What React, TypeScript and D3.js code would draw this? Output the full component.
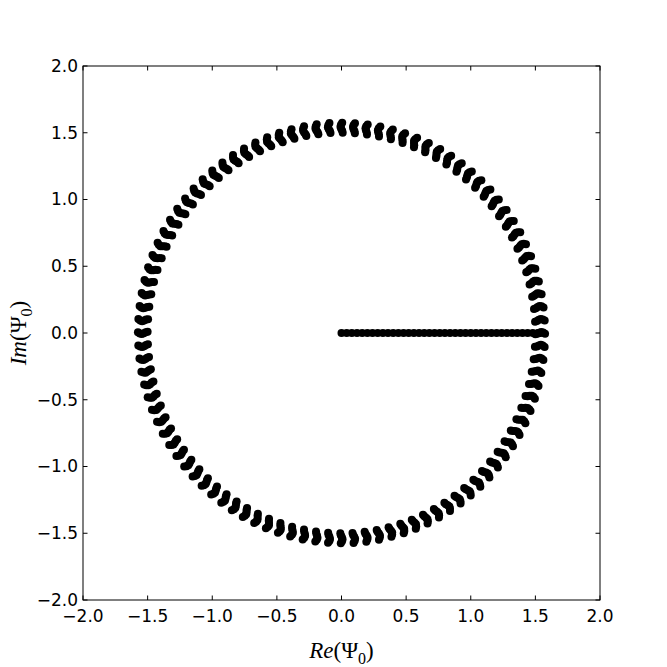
import { useEffect, useRef } from 'react';
import * as d3 from 'd3';

// angles (deg) of the point clusters around the circle
const clusterAngles = [
  0, 3.6, 7.2, 10.8, 14.4, 18, 21.6, 25.2, 28.8, 32.4, 36, 39.6, 43.2, 46.8, 50.4, 54, 57.6, 61.2, 64.8, 68.4,
  72, 75.6, 79.2, 82.8, 86.4, 90, 93.6, 97.2, 100.8, 104.4, 108, 111.6, 115.2, 118.8, 122.4, 126, 129.6, 133.2,
  136.8, 140.4, 144, 147.6, 151.2, 154.8, 158.4, 162, 165.6, 169.2, 172.8, 176.4, 180, 183.6, 187.2, 190.8, 194.4,
  198, 201.6, 205.2, 208.8, 212.4, 216, 219.6, 223.2, 226.8, 230.4, 234, 237.6, 241.2, 244.8, 248.4, 252, 255.6,
  259.2, 262.8, 266.4, 270, 273.6, 277.2, 280.8, 284.4, 288, 291.6, 295.2, 298.8, 302.4, 306, 309.6, 313.2, 316.8,
  320.4, 324, 327.6, 331.2, 334.8, 338.4, 342, 345.6, 349.2, 352.8, 356.4,
];
// each cluster: a few points at slightly different |Psi0| and phase
const clusterRadii = [1.5, 1.515, 1.53, 1.545, 1.56, 1.575];
const clusterTwist = [-0.35, -0.2, 0.1, 0.3, 0.15, -0.2];

// points on the real axis
const lineRe = [
  0, 0.04, 0.08, 0.12, 0.16, 0.2, 0.24, 0.28, 0.32, 0.36, 0.4, 0.44, 0.48, 0.52, 0.56, 0.6, 0.64, 0.68, 0.72,
  0.76, 0.8, 0.84, 0.88, 0.92, 0.96, 1.0, 1.04, 1.08, 1.12, 1.16, 1.2, 1.24, 1.28, 1.32, 1.36, 1.4, 1.44, 1.48,
  1.52, 1.54,
];

const ticks = [-2, -1.5, -1, -0.5, 0, 0.5, 1, 1.5, 2];

const App = () => {
  const svgRef = useRef<SVGSVGElement>(null);

  useEffect(() => {
    const width = 667;
    const height = 667;
    const left = 83;
    const right = 600;
    const top = 66;
    const bottom = 600;

    const svg = d3.select(svgRef.current).attr('width', width).attr('height', height);
    svg.selectAll('*').remove();

    const x = d3.scaleLinear().domain([-2, 2]).range([left, right]);
    const y = d3.scaleLinear().domain([-2, 2]).range([bottom, top]);

    const pts: [number, number][] = [];
    clusterAngles.forEach((a) => {
      clusterRadii.forEach((r, i) => {
        const t = ((a + clusterTwist[i]) * Math.PI) / 180;
        pts.push([r * Math.cos(t), r * Math.sin(t)]);
      });
    });
    lineRe.forEach((v) => pts.push([v, 0]));

    svg
      .append('g')
      .selectAll('circle')
      .data(pts)
      .enter()
      .append('circle')
      .attr('cx', (d) => x(d[0]))
      .attr('cy', (d) => y(d[1]))
      .attr('r', 4)
      .attr('fill', '#000');

    // frame
    svg
      .append('rect')
      .attr('x', left)
      .attr('y', top)
      .attr('width', right - left)
      .attr('height', bottom - top)
      .attr('fill', 'none')
      .attr('stroke', '#000')
      .attr('stroke-width', 1);

    const fmt = (v: number) => d3.format('.1f')(v).replace('-', '\u2212');
    const tk = 4.5;

    const gx = svg.append('g');
    ticks.forEach((v) => {
      gx.append('line').attr('x1', x(v)).attr('x2', x(v)).attr('y1', bottom).attr('y2', bottom - tk).attr('stroke', '#000');
      gx.append('line').attr('x1', x(v)).attr('x2', x(v)).attr('y1', top).attr('y2', top + tk).attr('stroke', '#000');
      gx.append('text')
        .attr('x', x(v))
        .attr('y', bottom + 22)
        .attr('text-anchor', 'middle')
        .style('font-family', 'DejaVu Sans, sans-serif')
        .style('font-size', '17px')
        .text(fmt(v));
    });

    const gy = svg.append('g');
    ticks.forEach((v) => {
      gy.append('line').attr('x1', left).attr('x2', left + tk).attr('y1', y(v)).attr('y2', y(v)).attr('stroke', '#000');
      gy.append('line').attr('x1', right).attr('x2', right - tk).attr('y1', y(v)).attr('y2', y(v)).attr('stroke', '#000');
      gy.append('text')
        .attr('x', left - 5)
        .attr('y', y(v))
        .attr('dy', '0.35em')
        .attr('text-anchor', 'end')
        .style('font-family', 'DejaVu Sans, sans-serif')
        .style('font-size', '17px')
        .text(fmt(v));
    });

    const label = (g: any, part: string) => {
      g.append('tspan').style('font-style', 'italic').text(part);
      g.append('tspan').text('(\u03A8');
      g.append('tspan').attr('font-size', '16px').attr('dy', 6).text('0');
      g.append('tspan').attr('dy', -6).text(')');
    };

    const xl = svg
      .append('text')
      .attr('x', (left + right) / 2)
      .attr('y', 658)
      .attr('text-anchor', 'middle')
      .style('font-family', 'Liberation Serif, serif')
      .style('font-size', '23px');
    label(xl, 'Re');

    const yl = svg
      .append('text')
      .attr('transform', `translate(26,${(top + bottom) / 2}) rotate(-90)`)
      .attr('text-anchor', 'middle')
      .style('font-family', 'Liberation Serif, serif')
      .style('font-size', '23px');
    label(yl, 'Im');
  }, []);

  return (
    <div style={{ position: 'absolute', left: 0, top: 0 }}>
      <svg ref={svgRef} style={{ display: 'block', background: '#fff' }}></svg>
    </div>
  );
};

export default App;
